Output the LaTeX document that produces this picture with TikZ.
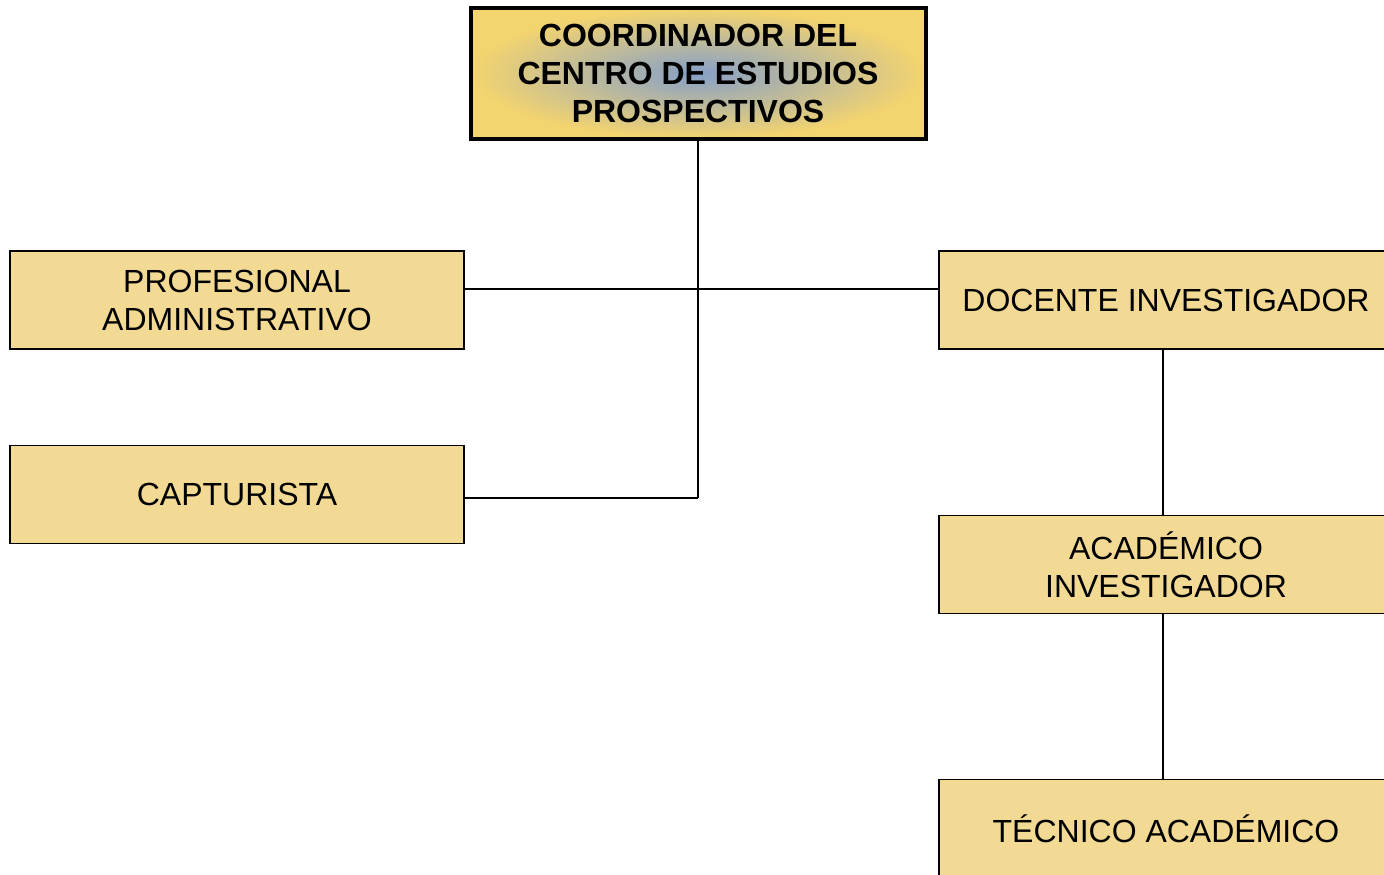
\documentclass[tikz,border=0pt]{standalone}
\usepackage{fontspec}
\setmainfont{Liberation Sans}
\usetikzlibrary{arrows}

\definecolor{puesto}{RGB}{243,218,148}
\definecolor{oro}{RGB}{244,212,110}
\definecolor{azul}{RGB}{135,160,200}

\begin{document}
\begin{tikzpicture}[x=0.5pt,y=-0.5pt,thick,
  main node/.style={rectangle,draw,line width=0.9pt,fill=puesto,align=center,
    minimum width=227pt,minimum height=49pt,inner sep=0pt,
    font=\fontsize{16}{19}\selectfont},
  jefe node/.style={main node,line width=2pt,inner color=azul,outer color=oro,
    minimum width=227.5pt,minimum height=65.5pt,
    font=\fontsize{16}{19}\selectfont\bfseries},
  linea/.style={line width=1pt}]

 \useasboundingbox (0,0) rectangle (1384,874);
 \clip (0,0) rectangle (1384,874);

 \node[jefe node] (coord) at (698,73.5) {COORDINADOR DEL\\CENTRO DE ESTUDIOS\\PROSPECTIVOS};
 \node[main node] (prof) at (237,300) {PROFESIONAL\\ADMINISTRATIVO};
 \node[main node] (capt) at (237,494.5) {CAPTURISTA};
 \node[main node] (doc) at (1166,300) {DOCENTE INVESTIGADOR};
 \node[main node] (acad) at (1166,564.5) {ACAD\'EMICO\\INVESTIGADOR};
 \node[main node] (tec) at (1166,828.5) {T\'ECNICO ACAD\'EMICO};

 \coordinate (cruce) at (698,289);
 \coordinate (fin) at (698,498);

 \draw[linea] (coord.south) -- (fin);
 \draw[linea] (prof.east |- cruce) -- (doc.west |- cruce);
 \draw[linea] (capt.east |- fin) -- (fin);
 \draw[linea] (doc.south -| 1163,0) -- (acad.north -| 1163,0);
 \draw[linea] (acad.south -| 1163,0) -- (tec.north -| 1163,0);

\end{tikzpicture}
\end{document}
